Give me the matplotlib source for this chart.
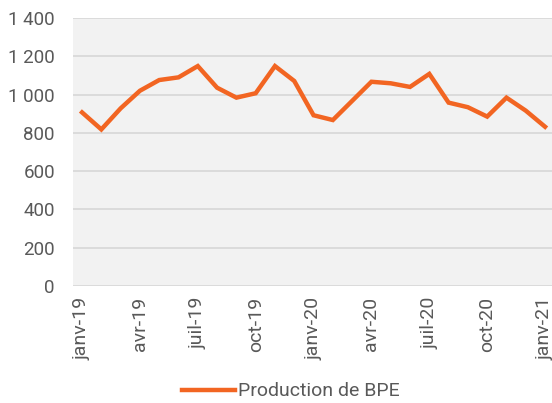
import matplotlib
matplotlib.use("Agg")
import matplotlib.pyplot as plt
from matplotlib.ticker import FuncFormatter

plt.rcParams['font.family'] = ['Roboto', 'DejaVu Sans']

months = ["janv-19", "févr-19", "mars-19", "avr-19", "mai-19", "juin-19", "juil-19", "août-19",
          "sept-19", "oct-19", "nov-19", "déc-19", "janv-20", "févr-20", "mars-20", "avr-20",
          "mai-20", "juin-20", "juil-20", "août-20", "sept-20", "oct-20", "nov-20", "déc-20", "janv-21"]
production = [907, 818, 928, 1020, 1076, 1090, 1149, 1036, 984, 1007, 1149, 1071, 892,
              867, 967, 1067, 1059, 1040, 1108, 958, 934, 885, 984, 916, 832]
yticks = [0, 200, 400, 600, 800, 1000, 1200, 1400]
series_name = "Production de BPE"

fig = plt.figure(figsize=(5.52, 4.03), dpi=100)
ax = fig.add_axes([0.1322, 0.2903, 0.8678, 0.665])
ax.set_facecolor("#F2F2F2")

x = list(range(len(months)))
ax.plot(x, production, color="#F26522", lw=3.2, solid_joinstyle="miter", label=series_name)

ax.set_ylim(0, 1400)
ax.set_xlim(-0.47, 24.36)
ax.set_yticks(yticks)
ax.yaxis.set_major_formatter(FuncFormatter(lambda v, p: f"{int(v):,}".replace(",", " ")))
ax.grid(axis="y", color="#D9D9D9", lw=1.3)
ax.set_axisbelow(True)
for s in ax.spines.values():
    s.set_visible(False)

tick_idx = x[::3]
ax.set_xticks(tick_idx)
ax.set_xticklabels([months[i] for i in tick_idx], rotation=90, va="top", ha="center")
ax.tick_params(axis="both", length=0, colors="#595959")
ax.tick_params(axis="x", pad=8, labelsize=14)
ax.tick_params(axis="y", pad=13, labelsize=13.5)

leg = fig.legend(loc="center", bbox_to_anchor=(0.527, 0.029), frameon=False,
                 fontsize=14, handlelength=2.75, handletextpad=0.15, labelcolor="#595959")

fig.savefig("out.png", dpi=100)
